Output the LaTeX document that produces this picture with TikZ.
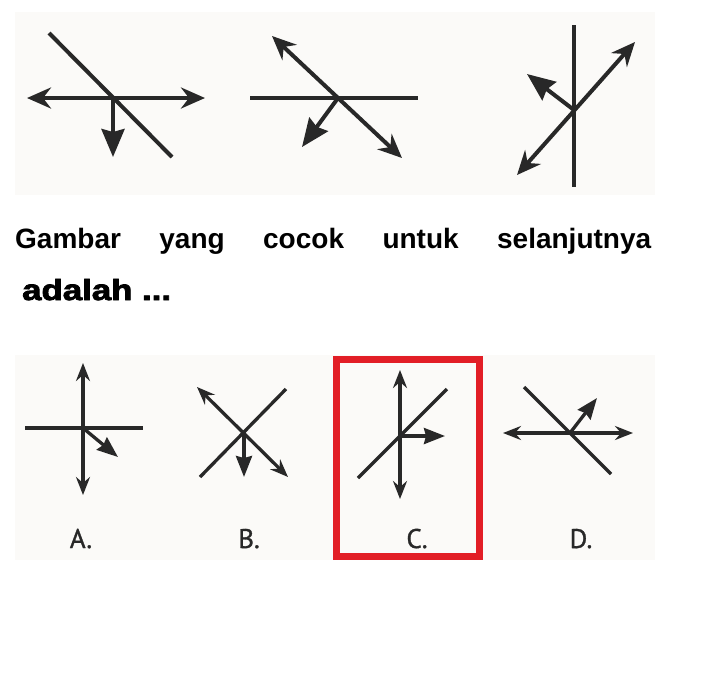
\documentclass[tikz,border=0pt]{standalone}
\usepackage{graphicx}
\usepackage{fontspec}
\setmainfont{Liberation Sans}
\newfontfamily\labelfont{PT Sans}[FakeBold=1.2]
\newfontfamily\heavyfont{Liberation Sans}[BoldFeatures={FakeBold=2.6}]
\usetikzlibrary{arrows.meta}
\definecolor{ink}{RGB}{40,40,40}
\definecolor{paper}{RGB}{251,250,248}
\definecolor{answerred}{RGB}{226,30,38}
\tikzset{
	bigtip/.tip={Stealth[length=24pt,width=21pt,inset=8pt]},
	bigsolid/.tip={Stealth[length=28pt,width=23pt,inset=3pt]},
	smalltip/.tip={Stealth[length=18pt,width=14pt,inset=6pt]},
	smallsolid/.tip={Stealth[length=21pt,width=16pt,inset=2pt]},
}

\begin{document}
\begin{tikzpicture}
		[x=1pt,y=-1pt,
		ray/.style ={draw=ink, line width=4pt},
		thinray/.style ={draw=ink, line width=3.3pt},
		panel/.style ={fill=paper, draw=none},
		choice/.style ={anchor=base, inner sep=0pt, text=ink, font=\labelfont\fontsize{27}{27}\selectfont},
		answer/.style ={draw=answerred, line width=7pt},
		]

		\useasboundingbox (0,0) rectangle (719,689);
		\fill[panel] (15,12) rectangle (655,195);
		\fill[panel] (15,355) rectangle (655,560);

		\coordinate (M1) at (113,98);
		\coordinate (M2) at (338,98);
		\coordinate (M3) at (574,110);
		\coordinate (MA) at (83,428);
		\coordinate (MB) at (244,432);
		\coordinate (MC) at (400,436);
		\coordinate (MD) at (570,433);

		\draw[ray] (49,33) -- (172,157);
		\draw[ray, bigtip-bigtip] (27,98) -- (205,98);
		\draw[ray, -bigsolid] (M1) -- (113,157);

		\draw[ray] (250,98) -- (418,98);
		\draw[ray, bigtip-bigtip] (272,36) -- (402,158);
		\draw[ray, -bigsolid] (M2) -- (302,147);

		\draw[ray] (574,25) -- (574,187);
		\draw[ray, bigtip-bigtip] (517,175) -- (635,42);
		\draw[ray, -bigsolid] (M3) -- (527,74);

		\draw (15,248) node[anchor=base west, inner sep=0pt, font=\bfseries\fontsize{28}{28}\selectfont] (Q1)
		{\hbox to 636pt{Gambar\hfill yang\hfill cocok\hfill untuk\hfill selanjutnya}};
		\draw (22,300) node[anchor=base west, inner sep=0pt, font=\heavyfont\bfseries\fontsize{29}{29}\selectfont] (Q2)
		{\scalebox{1.2}[1]{adalah ...}};

		\draw[thinray, smalltip-smalltip] (83,363) -- (83,495);
		\draw[thinray] (25,428) -- (143,428);
		\draw[thinray, -smallsolid] (MA) -- (118,457);

		\draw[thinray, smalltip-smalltip] (197,387) -- (288,477);
		\draw[thinray] (200,477) -- (286,389);
		\draw[thinray, -smallsolid] (MB) -- (244,477);

		\draw[thinray, smalltip-smalltip] (400,370) -- (400,499);
		\draw[thinray] (358,478) -- (447,389);
		\draw[thinray, -smallsolid] (MC) -- (445,436);

		\draw[thinray, smalltip-smalltip] (503,433) -- (633,433);
		\draw[thinray] (524,387) -- (611,474);
		\draw[thinray, -smallsolid] (MD) -- (597,398);

		\draw (81,548) node[choice] (LA) {A.};
		\draw (249,548) node[choice] (LB) {B.};
		\draw (417,548) node[choice] (LC) {C.};
		\draw (581,548) node[choice] (LD) {D.};

		\draw[answer] (336,359) rectangle (479,556);
	\end{tikzpicture}
\end{document}
